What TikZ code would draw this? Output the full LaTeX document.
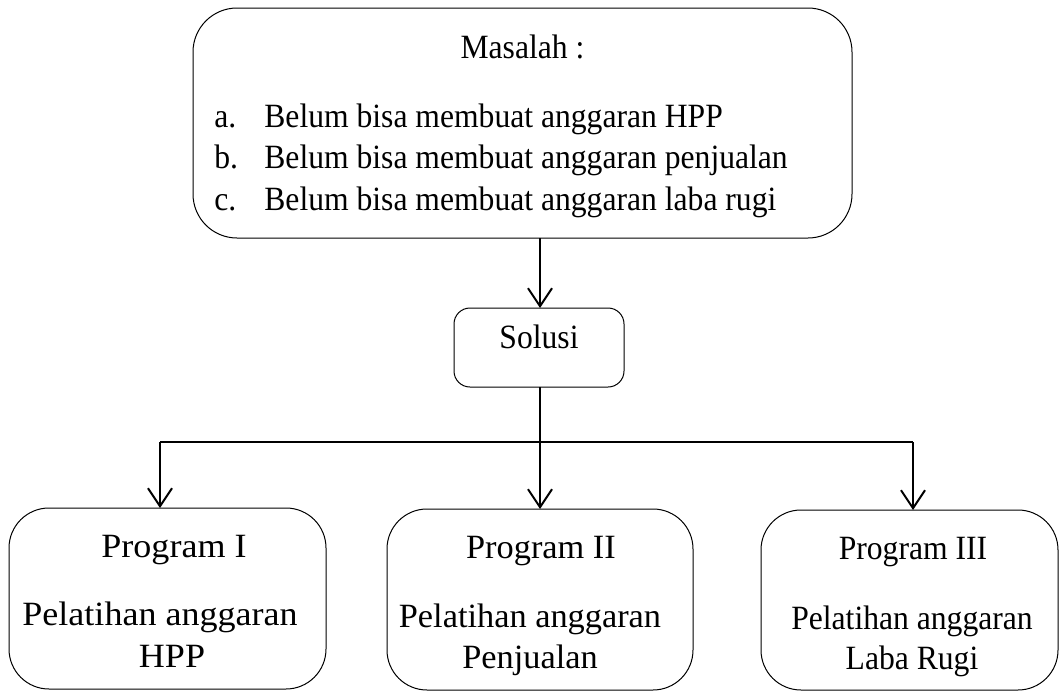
\documentclass[tikz,border=0pt]{standalone}
\usepackage{fontspec}
\setmainfont{Liberation Serif}[FakeStretch=0.93]
\newfontfamily\wideA{Liberation Serif}[FakeStretch=1.06]
\newfontfamily\wideB{Liberation Serif}[FakeStretch=1.01]
\newfontfamily\wideC{Liberation Serif}[FakeStretch=0.93]
\usetikzlibrary{arrows.meta}
\begin{document}
\begin{tikzpicture}[x=0.5pt,y=-0.5pt,
  box/.style={draw=black,line width=0.5pt,inner sep=0pt,outer sep=0pt},
  txt/.style={inner sep=0pt,anchor=base,font=\fontsize{17}{20}\selectfont},
  ta/.style={txt,font=\fontsize{17}{20}\wideA},
  tb/.style={txt,font=\fontsize{17}{20}\wideB},
  tc/.style={txt,font=\fontsize{17}{20}\wideC},
  conn/.style={line width=1pt},
  arr/.style={conn,-{Straight Barb[length=9pt,width=12pt,line width=1pt]}}]
\useasboundingbox (0,0) rectangle (1060,691);
% boxes
\node[box,rounded corners=22pt,minimum width=329.5pt,minimum height=115pt] (top) at (522.5,123) {};
\node[box,rounded corners=8pt,minimum width=85pt,minimum height=39.5pt] (sol) at (539,347.5) {};
\node[box,rounded corners=20pt,minimum width=158.5pt,minimum height=90.5pt] (p1) at (167.5,598.5) {};
\node[box,rounded corners=20pt,minimum width=153pt,minimum height=90.5pt] (p2) at (540,599.5) {};
\node[box,rounded corners=20pt,minimum width=148.5pt,minimum height=90pt] (p3) at (909.5,600) {};
% texts
\node[txt] (tm) at (522.5,58) {Masalah :};
\node[txt,anchor=base west] (la) at (214,127) {a.};
\node[txt,anchor=base west] (lta) at (264,127) {Belum bisa membuat anggaran HPP};
\node[txt,anchor=base west] (lb) at (214,168) {b.};
\node[txt,anchor=base west] (ltb) at (264,168) {Belum bisa membuat anggaran penjualan};
\node[txt,anchor=base west] (lc) at (214,210) {c.};
\node[txt,anchor=base west] (ltc) at (264,210) {Belum bisa membuat anggaran laba rugi};
\node[txt] (ts) at (539,348) {Solusi};
\node[ta] (t1a) at (174,557) {Program I};
\node[ta] (t1b) at (160,625) {Pelatihan anggaran};
\node[ta] (t1c) at (172,667) {HPP};
\node[tb] (t2a) at (541,558) {Program II};
\node[tb] (t2b) at (530,627) {Pelatihan anggaran};
\node[tb] (t2c) at (530,668) {Penjualan};
\node[tc] (t3a) at (913,559) {Program III};
\node[tc] (t3b) at (912,629) {Pelatihan anggaran};
\node[tc] (t3c) at (912,669) {Laba Rugi};
% connectors
\coordinate (j1) at (160,442);
\coordinate (j2) at (540,442);
\coordinate (j3) at (913,442);
\draw[arr] (top.south -| j2) -- (sol.north -| j2);
\draw[conn] (sol.south -| j2) -- (j2);
\draw[conn] (j1) -- (j3);
\draw[arr] (j1) -- (j1 |- p1.north);
\draw[arr] (j2) -- (j2 |- p2.north);
\draw[arr] (j3) -- (j3 |- p3.north);
\end{tikzpicture}
\end{document}
